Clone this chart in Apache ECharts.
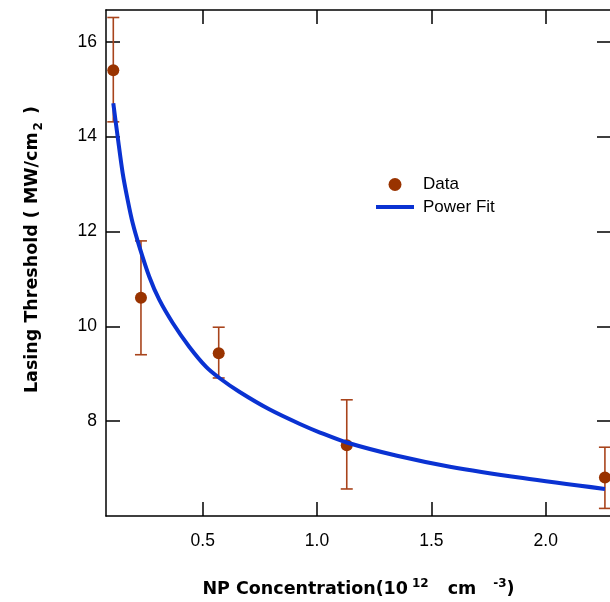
<!DOCTYPE html>
<html>
<head>
<meta charset="utf-8">
<script src="https://cdn.jsdelivr.net/npm/echarts@6/dist/echarts.min.js"></script>
<style>html,body{margin:0;padding:0;background:#fff}#c{width:610px;height:602px}</style>
</head>
<body>
<div id="c"></div>
<script>
// Measured data points (NP concentration, lasing threshold)
const concentration = [0.109, 0.230, 0.570, 1.130, 2.259];
const threshold = [15.40, 10.60, 9.43, 7.49, 6.81];
const errLow = [14.31, 9.40, 8.91, 6.57, 6.16];
const errHigh = [16.51, 11.80, 9.98, 8.45, 7.45];
// Power fit curve
const fitX = [0.109, 0.128, 0.150, 0.172, 0.194, 0.223, 0.266, 0.310, 0.369, 0.441, 0.514, 0.573, 0.660, 0.791, 0.925, 1.013, 1.130, 1.350, 1.581, 1.900, 2.259];
const fitY = [14.70, 14.00, 13.23, 12.66, 12.17, 11.68, 11.05, 10.56, 10.07, 9.57, 9.15, 8.91, 8.62, 8.25, 7.94, 7.76, 7.55, 7.27, 7.04, 6.80, 6.57];
const xTicks = [0.5, 1.0, 1.5, 2.0];
const yTicks = [8, 10, 12, 14, 16];
const xTickLabels = ['0.5', '1.0', '1.5', '2.0'];

const ERR_COLOR = '#a8441c';
const DOT_COLOR = '#993300';
const FIT_COLOR = '#0a32d2';
const FONT = 'Liberation Sans';
const TFONT = 'DejaVu Sans';

const chart = echarts.init(document.getElementById('c'), null, {renderer: 'canvas'});

const axisLine = {show: true, onZero: false, lineStyle: {color: '#000', width: 1.5}};
const tick = (vals) => ({show: true, inside: true, length: 14, lineStyle: {color: '#000', width: 1.5}, customValues: vals});

const scatterData = concentration.map((x, i) => [x, threshold[i]]);
const errData = concentration.map((x, i) => [x, errLow[i], errHigh[i]]);
const fitData = fitX.map((x, i) => [x, fitY[i]]);

const option = {
  animation: false,
  backgroundColor: '#fff',
  grid: {left: 106, top: 10, width: 505, height: 506, containLabel: false, outerBoundsMode: 'none'},
  legend: {
    orient: 'vertical', left: 376, top: 176, padding: 0,
    itemWidth: 38, itemHeight: 13, itemGap: 5.5,
    textStyle: {fontFamily: FONT, fontSize: 17, color: '#000', padding: [0, 0, 0, 4]},
    data: [{name: 'Data', icon: 'circle'}, {name: 'Power Fit', icon: 'path://M0,0H38V4H0Z'}]
  },
  xAxis: [{
    type: 'value', min: 0.0771, max: 2.2856, position: 'bottom',
    axisLine, splitLine: {show: false},
    axisTick: tick(xTicks),
    axisLabel: {show: true, customValues: xTicks, margin: 16, fontFamily: FONT, fontSize: 17.5, color: '#000',
      formatter: v => xTickLabels[xTicks.indexOf(Math.round(v * 10) / 10)] ?? ''},
    name: '{a|NP Concentration(10}{s|12}{b|cm}{t|-3}{a|)}',
    nameLocation: 'middle', nameGap: 62,
    nameTextStyle: {rich: {
      a: {fontFamily: TFONT, fontWeight: 'bold', fontSize: 17.5, color: '#000', verticalAlign: 'bottom', lineHeight: 20},
      b: {fontFamily: TFONT, fontWeight: 'bold', fontSize: 17.5, color: '#000', verticalAlign: 'bottom', lineHeight: 20, padding: [0, 0, 0, 19]},
      s: {fontFamily: TFONT, fontWeight: 'bold', fontSize: 12, color: '#000', verticalAlign: 'top', lineHeight: 12, padding: [0, 0, 34, 4]},
      t: {fontFamily: TFONT, fontWeight: 'bold', fontSize: 12, color: '#000', verticalAlign: 'top', lineHeight: 12, padding: [0, 0, 34, 17]}
    }}
  }, {
    type: 'value', min: 0.0771, max: 2.2856, position: 'top',
    axisLine, splitLine: {show: false},
    axisTick: tick(xTicks), axisLabel: {show: false}
  }],
  yAxis: [{
    type: 'value', min: 6.0, max: 16.668, position: 'left',
    axisLine, splitLine: {show: false},
    axisTick: tick(yTicks),
    axisLabel: {show: true, customValues: yTicks, margin: 9, fontFamily: FONT, fontSize: 17.5, color: '#000'},
    name: '{a|Lasing Threshold ( MW/cm}{s|2}{a| )}',
    nameLocation: 'middle', nameGap: 61,
    nameTextStyle: {padding: [0, 0, 0, 27], rich: {
      a: {fontFamily: TFONT, fontWeight: 'bold', fontSize: 17.5, color: '#000', verticalAlign: 'top', lineHeight: 22},
      s: {fontFamily: TFONT, fontWeight: 'bold', fontSize: 12, color: '#000', verticalAlign: 'bottom', lineHeight: 12, padding: [22, 2, 0, 2]}
    }}
  }, {
    type: 'value', min: 6.0, max: 16.668, position: 'right',
    axisLine, splitLine: {show: false},
    axisTick: tick(yTicks), axisLabel: {show: false}
  }],
  series: [{
    type: 'custom', name: 'err', z: 2,
    renderItem: (params, api) => {
      const x = api.value(0);
      const lo = api.coord([x, api.value(1)]);
      const hi = api.coord([x, api.value(2)]);
      const w = 6;
      const st = {stroke: ERR_COLOR, lineWidth: 1.6};
      return {type: 'group', children: [
        {type: 'line', shape: {x1: lo[0], y1: lo[1], x2: hi[0], y2: hi[1]}, style: st},
        {type: 'line', shape: {x1: lo[0] - w, y1: lo[1], x2: lo[0] + w, y2: lo[1]}, style: st},
        {type: 'line', shape: {x1: hi[0] - w, y1: hi[1], x2: hi[0] + w, y2: hi[1]}, style: st}
      ]};
    },
    encode: {x: 0, y: [1, 2]},
    data: errData
  }, {
    type: 'scatter', name: 'Data', z: 3, symbol: 'circle', symbolSize: 12,
    itemStyle: {color: DOT_COLOR, opacity: 1},
    data: scatterData
  }, {
    type: 'line', name: 'Power Fit', z: 4, symbol: 'none', smooth: 0.3,
    lineStyle: {color: FIT_COLOR, width: 4},
    itemStyle: {color: FIT_COLOR},
    data: fitData
  }]
};
chart.setOption(option);
</script>
</body>
</html>
